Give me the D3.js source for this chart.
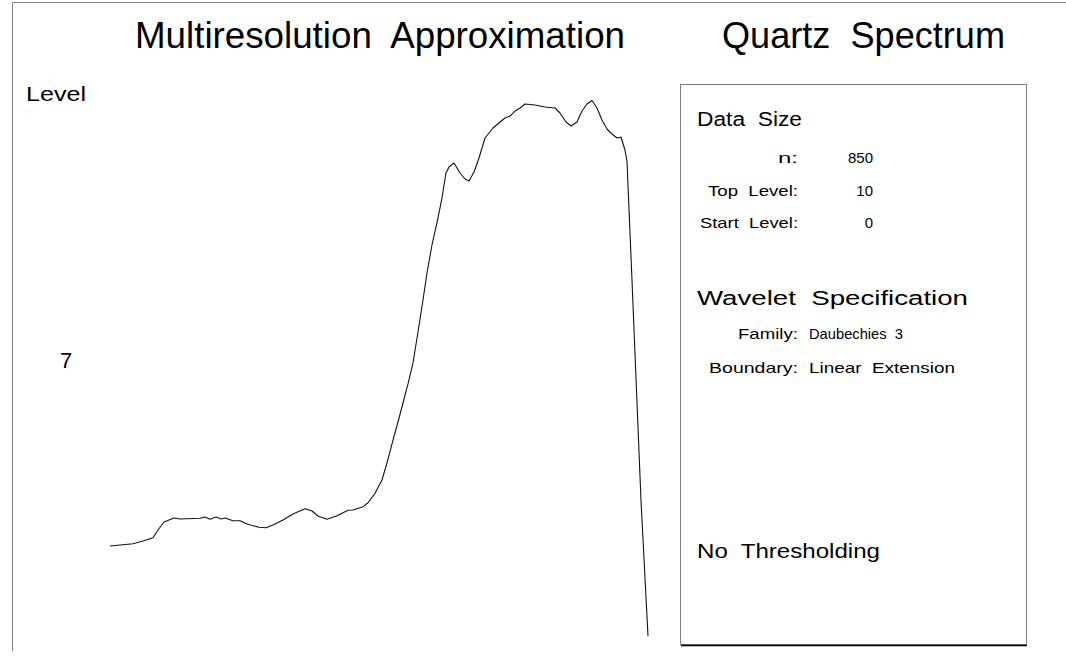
<!DOCTYPE html>
<html>
<head>
<meta charset="utf-8">
<script src="https://cdn.jsdelivr.net/npm/d3@7"></script>
<style>
  html, body { margin: 0; padding: 0; background: #fff; }
  svg { display: block; font-family: "Liberation Sans", Arial, Helvetica, sans-serif; }
</style>
</head>
<body>
<svg id="chart" width="1066" height="658"></svg>
<script>
// Level-7 multiresolution approximation of the quartz spectrum (n = 850)
const samplePos = [
  0, 36.3, 52.1, 67.9, 75.8, 85.3, 101.1, 110.6, 142.2, 150.1, 158.0, 167.5, 175.4, 181.7,
  194.3, 205.4, 216.5, 235.4, 246.5, 257.5, 273.3, 289.1, 308.1, 319.2, 328.6, 342.8, 358.7,
  376.0, 383.9, 399.7, 407.6, 418.7, 429.7, 437.6, 447.1, 455.0, 462.9, 470.8, 478.7, 486.6,
  494.5, 500.8, 508.7, 518.2, 524.5, 530.8, 535.6, 543.5, 553.0, 560.9, 567.2, 575.1, 583.0,
  592.5, 605.1, 616.2, 624.1, 632.0, 639.9, 647.8, 655.7, 671.5, 687.3, 703.1, 711.0, 720.5,
  728.4, 737.8, 745.7, 753.6, 761.5, 769.4, 777.3, 785.2, 793.1, 801.0, 807.3, 813.6, 816.8,
  824.7, 838.9, 850
];
const approxLevel7 = [
  18.18, 18.60, 19.09, 19.69, 21.09, 22.55, 23.27, 23.09, 23.22, 23.45, 23.04, 23.45, 23.09, 23.27,
  22.78, 22.78, 22.18, 21.58, 21.49, 22.00, 22.91, 24.00, 24.96, 24.55, 23.64, 23.04, 23.69,
  24.67, 24.73, 25.33, 26.05, 27.76, 30.18, 33.27, 37.45, 40.73, 44.18, 47.64, 51.45, 57.09,
  62.91, 67.82, 72.91, 77.82, 81.45, 86.00, 87.09, 87.82, 86.00, 84.91, 84.55, 86.18, 88.73,
  92.36, 94.18, 95.27, 96.00, 96.36, 97.27, 97.82, 98.55, 98.36, 98.00, 97.82, 96.91, 95.27,
  94.55, 95.27, 97.27, 98.55, 99.18, 97.82, 95.64, 94.00, 93.09, 92.36, 92.55, 90.18, 88.18,
  66.55, 26.55, 1.82
];
const levelTicks = ["7"];

const titles = ["Multiresolution  Approximation", "Quartz  Spectrum"];
const dataSizeLabels = ["n:", "Top  Level:", "Start  Level:"];
const dataSizeValues = ["850", "10", "0"];
const waveletLabels = ["Family:", "Boundary:"];
const waveletValues = ["Daubechies  3", "Linear  Extension"];
const sectionHeads = ["Data  Size", "Wavelet  Specification", "No  Thresholding"];

const svg = d3.select("#chart");

// text helper: fixed advance width keeps the condensed / stretched lettering
function label(txt, x, y, size, anchor, len) {
  const t = svg.append("text")
    .attr("x", x).attr("y", y)
    .attr("font-size", size)
    .attr("text-anchor", anchor || "start")
    .attr("fill", "#000")
    .style("white-space", "pre")
    .text(txt);
  if (len) t.attr("textLength", len).attr("lengthAdjust", "spacingAndGlyphs");
  return t;
}

// page frame
svg.append("line").attr("x1", 12.5).attr("y1", 2.5).attr("x2", 1066).attr("y2", 2.5)
  .attr("stroke", "#7f7f7f").attr("stroke-width", 1);
svg.append("line").attr("x1", 12.5).attr("y1", 2.5).attr("x2", 12.5).attr("y2", 651)
  .attr("stroke", "#7f7f7f").attr("stroke-width", 1);

// titles
label(titles[0], 135, 48, 36, "start", 490);
label(titles[1], 722, 48, 36, "start", 283);

// curve
const x = d3.scaleLinear().domain([0, 850]).range([110, 648]);
const y = d3.scaleLinear().domain([0, 100]).range([646, 96]);
const pts = samplePos.map((p, i) => [p, approxLevel7[i]]);
svg.append("path")
  .datum(pts)
  .attr("fill", "none")
  .attr("stroke", "#111")
  .attr("stroke-width", 1.1)
  .attr("stroke-linejoin", "round")
  .attr("d", d3.line().x(d => x(d[0])).y(d => y(d[1])));

// level axis
label("Level", 26, 101, 20, "start", 60);
const lv = d3.scaleBand().domain(levelTicks).range([640, 80]);
levelTicks.forEach(t => {
  label(t, 66, lv(t) + lv.bandwidth() / 2 + 8, 22, "middle");
});

// information panel
svg.append("rect").attr("x", 680.5).attr("y", 84.5).attr("width", 346).attr("height", 560)
  .attr("fill", "none").attr("stroke", "#7f7f7f").attr("stroke-width", 1);
svg.append("line").attr("x1", 681).attr("y1", 645.5).attr("x2", 1027).attr("y2", 645.5)
  .attr("stroke", "#000").attr("stroke-width", 1.5);

label(sectionHeads[0], 697, 126, 20, "start", 105);
const dsLen = [20, 90, 98];
const dsY = [163, 196, 228];
dataSizeLabels.forEach((s, i) => label(s, 798, dsY[i], 15, "end", dsLen[i]));
dataSizeValues.forEach((s, i) => label(s, 873, dsY[i], 15, "end"));

label(sectionHeads[1], 697, 305, 20, "start", 271);
const wvLen = [60, 89];
const wvValLen = [94, 146];
const wvY = [339, 373];
waveletLabels.forEach((s, i) => label(s, 798, wvY[i], 15, "end", wvLen[i]));
waveletValues.forEach((s, i) => label(s, 809, wvY[i], 15, "start", wvValLen[i]));

label(sectionHeads[2], 697, 558, 20, "start", 183);
</script>
</body>
</html>
